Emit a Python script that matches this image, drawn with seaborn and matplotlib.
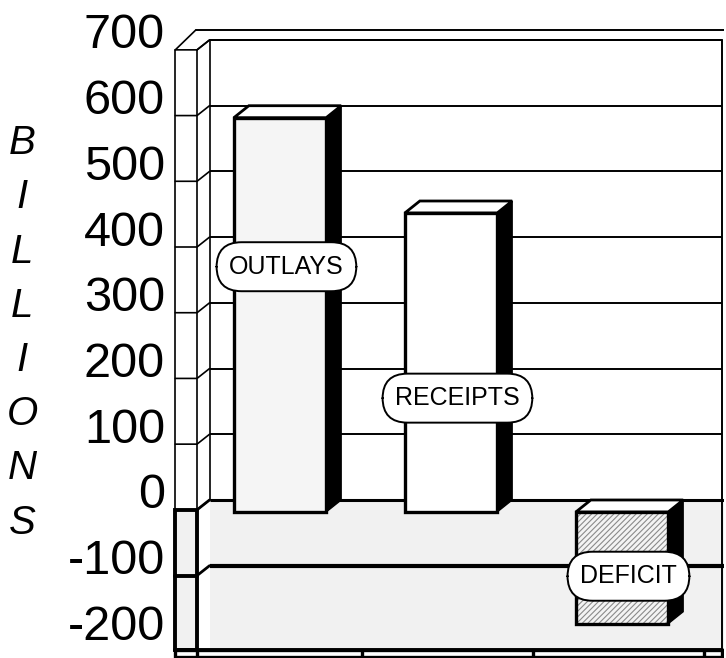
import numpy as np
import pandas as pd
import matplotlib
matplotlib.use("Agg")
import matplotlib.pyplot as plt
import seaborn as sns
from matplotlib.transforms import ScaledTranslation
from matplotlib.patches import Polygon, Rectangle

# ---- data -------------------------------------------------------------
categories = ["OUTLAYS", "RECEIPTS", "DEFICIT"]
values = [600, 455, -170]
yticks = [-200, -100, 0, 100, 200, 300, 400, 500, 600, 700]
ytick_labels = ["-200", "-100", "0", "100", "200", "300", "400", "500", "600", "700"]
ylabel_text = "B\nI\nL\nL\nI\nO\nN\nS"

df = pd.DataFrame({"category": categories, "value": values})

# ---- style ------------------------------------------------------------
sns.set_theme(style="white")
plt.rcParams["font.family"] = ["Liberation Sans", "DejaVu Sans"]
plt.rcParams["hatch.linewidth"] = 0.8

W, H = 726, 658
fig = plt.figure(figsize=(W / 100, H / 100), dpi=100)

# pixel layout of the back wall: value v -> 500 - s*v ; category x -> 295 + 171*x
s = 460 / 700.0
ax_left, ax_right, ax_top, ax_bot = 172, 724, 28, 658
ax = fig.add_axes([ax_left / W, 1 - ax_bot / H, (ax_right - ax_left) / W, (ax_bot - ax_top) / H])
ylo, yhi = -(ax_bot - 500) / s, (500 - ax_top) / s
xlo, xhi = (ax_left - 295) / 171, (ax_right - 295) / 171

# depth offsets of the bars (front face is down-left of the back face)
dx_bar = 15 / 171.0
dy_bar = 12 / s

# ---- bars (seaborn draws the back box) ---------------------------------
sns.barplot(data=df, x="category", y="value", order=categories, width=0.54,
            color="black", saturation=1, ax=ax, zorder=3, linewidth=0)
bar_patches = list(ax.containers[0].patches)

# ---- background: stippled negative zone -------------------------------
floor_top = -228
stipple = "#f1f1f1"
ax.add_patch(Rectangle((-0.5, floor_top), xhi + 0.5, -floor_top, facecolor=stipple,
                       edgecolor="none", zorder=0))
pos_ticks = [t for t in yticks if t > 0]
ax.hlines(pos_ticks, -0.5, xhi - 0.01, color="black", lw=1.4, zorder=1)
ax.hlines([0], -0.5, xhi, color="black", lw=2.2, zorder=1)
ax.hlines([-100], -0.5, xhi, color="black", lw=3.0, zorder=1)

faces = ["#f5f5f5", "white", "#f3f3f3"]
for p, face, cat in zip(bar_patches, faces, categories):
    x0, w = p.get_x(), p.get_width()
    y0, h = p.get_y(), p.get_height()
    ytop, ybot = max(y0, y0 + h), min(y0, y0 + h)
    # right side (black)
    ax.add_patch(Polygon([(x0 + w - dx_bar, ytop - dy_bar), (x0 + w, ytop), (x0 + w, ybot),
                          (x0 + w - dx_bar, ybot - dy_bar)], closed=True,
                         facecolor="black", edgecolor="black", lw=1, zorder=4))
    # top face
    ax.add_patch(Polygon([(x0 - dx_bar, ytop - dy_bar), (x0, ytop), (x0 + w, ytop),
                          (x0 + w - dx_bar, ytop - dy_bar)], closed=True,
                         facecolor="white", edgecolor="black", lw=2.0, zorder=4))
    # front face
    if cat == "DEFICIT":
        ax.add_patch(Rectangle((x0 - dx_bar, ybot - dy_bar), w, ytop - ybot,
                               facecolor=face, edgecolor="#8a8a8a", hatch="//////",
                               lw=0, zorder=5))
        ax.add_patch(Rectangle((x0 - dx_bar, ybot - dy_bar), w, ytop - ybot,
                               facecolor="none", edgecolor="black", lw=2.4, zorder=5))
    else:
        ax.add_patch(Rectangle((x0 - dx_bar, ybot - dy_bar), w, ytop - ybot,
                               facecolor=face, edgecolor="black", lw=2.4, zorder=5))

# ---- pill labels --------------------------------------------------------
label_y = [355, 155, -116]
for i, (cat, ly) in enumerate(zip(categories, label_y)):
    ax.text(i - 0.05, ly, cat, ha="center", va="center", fontsize=18, color="black",
            zorder=8,
            bbox=dict(boxstyle="round,pad=0.5,rounding_size=1.0", facecolor="white",
                      edgecolor="black", lw=1.4))

# ---- left wall, top & floor frame ---------------------------------------
xf, xm = -0.70, -0.573
dyw = 15
ax.plot([xf, xf], [floor_top, 700 - dyw], color="black", lw=1.2, zorder=2)
ax.plot([xm, xm], [floor_top, 700 - dyw], color="black", lw=1.2, zorder=2)
ax.plot([-0.5, -0.5], [0, 700], color="black", lw=1.2, zorder=2)
for t in yticks:
    if 0 <= t <= 700:
        ax.plot([-0.5, xm, xf], [t, t - dyw, t - dyw], color="black", lw=1.2, zorder=2)
ax.add_patch(Rectangle((xf, floor_top), xm - xf, -dyw - floor_top, facecolor=stipple,
                       edgecolor="black", lw=2.8, zorder=2))
ax.plot([xf, xm], [-100 - dyw, -100 - dyw], color="black", lw=2.8, zorder=2)
ax.plot([xm, -0.5], [-dyw, 0], color="black", lw=2.0, zorder=2)
ax.plot([xm, -0.5], [-100 - dyw, -100], color="black", lw=2.0, zorder=2)
ax.plot([xf, -0.58], [700 - dyw, yhi - 3], color="black", lw=1.2, zorder=2)
ax.plot([-0.58, xhi], [yhi - 3, yhi - 3], color="black", lw=1.4, zorder=2)
ax.plot([-0.5, xhi - 0.01], [700, 700], color="black", lw=1.4, zorder=2)
ax.plot([xm, -0.5], [700 - dyw, 700], color="black", lw=1.2, zorder=2)
ax.plot([xhi - 0.012, xhi - 0.012], [floor_top, 700], color="black", lw=1.4, zorder=2)
ax.add_patch(Rectangle((xf, ylo + 1), xhi - xf - 0.01, floor_top - ylo - 1, facecolor="white",
                       edgecolor="black", lw=2.4, zorder=2))
ax.plot([xf, xhi - 0.01], [floor_top, floor_top], color="black", lw=2.8, zorder=2)
for i in range(len(categories)):
    xd = i + 0.5 - 0.11
    ax.plot([xd, xd], [ylo, floor_top], color="black", lw=2.4, zorder=2)
ax.plot([xm, xm], [ylo, floor_top], color="black", lw=2.4, zorder=2)

# ---- axes cosmetics -----------------------------------------------------
ax.set_xlim(xlo, xhi)
ax.set_ylim(ylo, yhi)
ax.set_xticks([])
ax.set_xlabel("")
ax.set_ylabel("")
ax.set_yticks(yticks)
ax.set_yticklabels(ytick_labels)
ax.tick_params(axis="y", length=0, pad=5, labelsize=35, labelcolor="black")
for lbl in ax.get_yticklabels():
    lbl.set_transform(lbl.get_transform() + ScaledTranslation(0, 9 / 100, fig.dpi_scale_trans))
for sp in ax.spines.values():
    sp.set_visible(False)
ax.set_facecolor("white")

fig.text(22 / W, 1 - 333 / H, ylabel_text, ha="center", va="center", fontsize=29,
         style="italic", linespacing=1.54, color="black")

fig.savefig("out.png", dpi=100, facecolor="white")
